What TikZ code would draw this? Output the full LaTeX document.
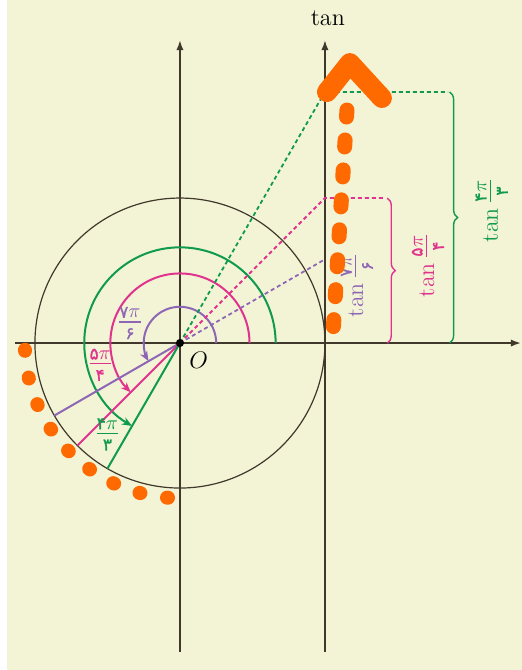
\documentclass[tikz,border=0pt]{standalone}
\usepackage{amsmath}
\usepackage{fontspec}
\usepackage{xcolor}
\usepackage{tikz}
\usetikzlibrary{arrows.meta,calc,decorations.pathreplacing}
\newfontfamily\fadigits{DejaVu Sans}[FakeBold=1, Scale=0.85]
\newcommand{\fa}[1]{\text{\fadigits #1}}
\newcommand{\tanof}[2]{$\tan$\,{\Large$\frac{\fa{#1}\pi}{\fa{#2}}$}}
\definecolor{paper}{HTML}{F3F4D5}
\definecolor{axisgray}{HTML}{3F382B}
\definecolor{trigpurple}{HTML}{8D67B5}
\definecolor{trigpink}{HTML}{E0338E}
\definecolor{triggreen}{HTML}{109A4E}
\definecolor{marker}{HTML}{FF6A00}
\tikzset{
    trig axis/.style={-{Latex[length=5pt,width=3.6pt]}, line width=0.9pt, draw=axisgray},
    trig circle/.style={line width=0.6pt, draw=axisgray},
    trig ray/.style={line width=1pt},
    trig proj/.style={dash pattern=on 2pt off 1.5pt, line width=0.9pt},
    trig arc/.style={line width=1pt, -{Stealth[length=5pt,width=4pt]}},
    trig brace/.style={decorate, decoration={brace, amplitude=4pt}, line width=0.7pt},
    trig label/.style={font=\Large, inner sep=1pt},
    trig tan/.style={font=\large, inner sep=1pt, rotate=90},
    trig mark/.style={draw=marker, line cap=round, line join=round}
}

\begin{document}
\begin{tikzpicture}[x=72.5pt, y=72.5pt]
% page and margins
\fill[paper] (-1.241,-2.255) rectangle (2.359,2.366);
\fill[white] (-1.241,-2.255) rectangle (-1.193,2.366);
\useasboundingbox (-1.241,-2.255) rectangle (2.359,2.366);

% axes
\coordinate (O) at (0,0);
\coordinate (xl) at (-1.138,0);
\coordinate (xr) at (2.352,0);
\coordinate (yb) at (0,-2.128);
\coordinate (yt) at (0,2.09);
\coordinate (tb) at (1,-2.128);
\coordinate (tt) at (1,2.09);
\draw[trig axis] (xl) -- (xr);
\draw[trig axis] (yb) -- (yt);
\draw[trig axis] (tb) -- (tt);
\node[anchor=base, font=\large] (tanlbl) at (1.02,2.19) {$\tan$};

\draw[trig circle] (O) circle (1);

% angle arcs
\draw[trig arc, trigpurple] (0.25,0) arc (0:210:0.25);
\draw[trig arc, trigpink] (0.48,0) arc (0:225:0.48);
\draw[trig arc, triggreen] (0.66,0) arc (0:240:0.66);

% points on the circle and on the tangent line
\coordinate (P7) at (210:1);
\coordinate (P5) at (225:1);
\coordinate (P4) at (240:1);
\coordinate (T7) at (1,{tan(30)});
\coordinate (T5) at (1,1);
\coordinate (T4) at (1,{tan(60)});
\coordinate (E5) at (1.42,1);
\coordinate (E4) at (1.85,{tan(60)});

\draw[trig ray, trigpurple] (O) -- (P7);
\draw[trig ray, trigpink] (O) -- (P5);
\draw[trig ray, triggreen] (O) -- (P4);
\draw[trig proj, trigpurple] (O) -- (T7);
\draw[trig proj, trigpink] (O) -- (T5) -- (E5);
\draw[trig proj, triggreen] (O) -- (T4) -- (E4);

% braces
\draw[trig brace, trigpink] (1.43,1) -- (1.43,0);
\draw[trig brace, triggreen] (1.86,{tan(60)}) -- (1.86,0);

\fill (O) circle (0.028);
\node[font=\large] (olbl) at (0.13,-0.12) {$O$};

% labels
\node[trig label, text=trigpurple] (l7) at (-0.345,0.138) {$\frac{\fa{۷}\pi}{\fa{۶}}$};
\node[trig label, text=trigpink] (l5) at (-0.55,-0.15) {$\frac{\fa{۵}\pi}{\fa{۴}}$};
\node[trig label, text=triggreen] (l4) at (-0.5,-0.63) {$\frac{\fa{۴}\pi}{\fa{۳}}$};
\node[trig tan, text=trigpurple] (t7) at (1.221,0.4) {\tanof{۷}{۶}};
\node[trig tan, text=trigpink] (t5) at (1.71,0.538) {\tanof{۵}{۴}};
\node[trig tan, text=triggreen] (t4) at (2.15,0.917) {\tanof{۴}{۳}};

% orange marks
\draw[trig mark, line width=7pt, dash pattern=on 0.5pt off 13.5pt] (182.5:1.07) arc (182.5:267:1.07);
\draw[trig mark, line width=7.5pt, dash pattern=on 3.5pt off 11.5pt] (1.152,1.607) -- (1.055,0.055);
\draw[trig mark, line width=10pt] (1.014,1.731) -- (1.172,1.931) -- (1.393,1.69);
\end{tikzpicture}
\end{document}
